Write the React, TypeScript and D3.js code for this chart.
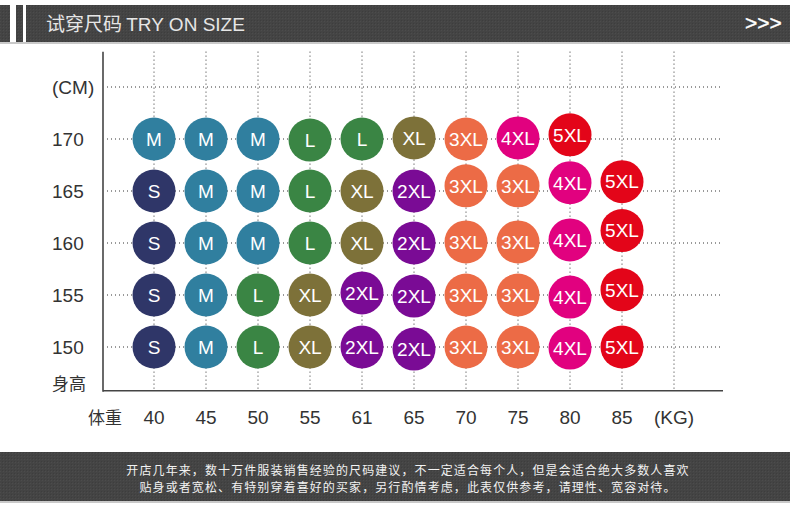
import React from "react";
import * as d3 from "d3";

const weightTicks = ["40", "45", "50", "55", "61", "65", "70", "75", "80", "85"];
const weightUnit = "(KG)";
const heightTicks = [170, 165, 160, 155, 150];
const heightUnit = "(CM)";

const sizeNames = ["S", "M", "L", "XL", "2XL", "3XL", "4XL", "5XL"];
const sizeColors = ["#2f3668", "#307f9f", "#3a8544", "#7d7139", "#7a0b95", "#ec6b46", "#e1017f", "#e30519"];

// rows: height -> sizes by weight column
const row170 = ["M", "M", "M", "L", "L", "XL", "3XL", "4XL", "5XL"];
const row165 = ["S", "M", "M", "L", "XL", "2XL", "3XL", "3XL", "4XL", "5XL"];
const row160 = ["S", "M", "M", "L", "XL", "2XL", "3XL", "3XL", "4XL", "5XL"];
const row155 = ["S", "M", "L", "XL", "2XL", "2XL", "3XL", "3XL", "4XL", "5XL"];
const row150 = ["S", "M", "L", "XL", "2XL", "2XL", "3XL", "3XL", "4XL", "5XL"];
// height read for each bubble (as placed in the picture)
const h170 = [170, 170, 170, 169.9, 170, 170.1, 170, 170.1, 170.4];
const h165 = [165, 165, 165, 165, 165, 165, 165.5, 165.5, 165.8, 165.9];
const h160 = [160, 160, 160, 160, 160, 160, 160.1, 160.1, 160.3, 161.2];
const h155 = [155, 155, 155, 155, 155.2, 154.9, 155, 155, 154.8, 155.5];
const h150 = [150, 150, 150, 150, 150, 149.8, 150, 150, 149.9, 150];

const footerLines = [
  "开店几年来，数十万件服装销售经验的尺码建议，不一定适合每个人，但是会适合绝大多数人喜欢",
  "贴身或者宽松、有特别穿着喜好的买家，另行酌情考虑，此表仅供参考，请理性、宽容对待。",
];

const W = 790;
const H = 509;
const FONT = "'Liberation Sans', Arial, Helvetica, sans-serif";
const CJK = "'Noto Sans CJK SC', 'Liberation Sans', sans-serif";

export default function App() {
  const x = d3.scalePoint<string>().domain([...weightTicks, weightUnit]).range([154, 674]);
  const y = d3.scaleLinear().domain([150, 175]).range([347, 87]);
  const color = d3.scaleOrdinal<string, string>().domain(sizeNames).range(sizeColors);

  const axisLeft = 103;
  const axisBottom = y(145.8);
  const axisTop = y(178.4);
  const gridRight = 722;

  const rows = [
    { sizes: row170, hs: h170 },
    { sizes: row165, hs: h165 },
    { sizes: row160, hs: h160 },
    { sizes: row155, hs: h155 },
    { sizes: row150, hs: h150 },
  ];
  const points = rows.flatMap((r) =>
    r.sizes.map((s, i) => ({ size: s, w: weightTicks[i], h: r.hs[i] }))
  );

  const gridH = [175, ...heightTicks];
  const gridV = [...weightTicks, weightUnit];

  return (
    <svg width={W} height={H} style={{ position: "absolute", left: 0, top: 0, background: "#fff" }}>
      <defs>
        <pattern id="tex" width="3" height="3" patternUnits="userSpaceOnUse">
          <rect width="3" height="3" fill="#444" />
          <rect width="1" height="1" fill="#4c4c4c" />
          <rect x="2" y="2" width="1" height="1" fill="#3d3d3d" />
        </pattern>
      </defs>
      {/* header */}
      <rect x={0} y={42} width={W} height={2} fill="#c9c9c9" />
      <rect x={0} y={5} width={10} height={37} fill="url(#tex)" />
      <rect x={16} y={5} width={7} height={37} fill="url(#tex)" />
      <rect x={26} y={5} width={W - 26} height={37} fill="url(#tex)" />
      <text x={46} y={31} fontSize={19} fill="#e6e6e6" fontFamily={CJK}>
        试穿尺码 <tspan fontFamily={FONT}>TRY ON SIZE</tspan>
      </text>
      <text x={745} y={30} fontSize={21} fill="#fff" fontFamily={FONT} stroke="#fff" strokeWidth={0.4}>{">>>"}</text>

      {/* grid */}
      {gridH.map((h) => (
        <line key={"h" + h} x1={107} x2={gridRight} y1={y(h)} y2={y(h)} stroke="#333" strokeWidth={1} strokeDasharray="1 3" />
      ))}
      {gridV.map((w) => (
        <line key={"v" + w} x1={x(w)} x2={x(w)} y1={axisTop} y2={axisBottom} stroke="#333" strokeWidth={1} strokeDasharray="1 3" />
      ))}

      {/* axes */}
      <line x1={axisLeft} x2={axisLeft} y1={axisTop} y2={axisBottom + 1} stroke="#444" strokeWidth={1.6} />
      <line x1={axisLeft} x2={723} y1={axisBottom} y2={axisBottom} stroke="#444" strokeWidth={1.6} />

      {/* y labels */}
      <text x={52} y={y(175)} dy="0.35em" fontSize={19} fill="#333" fontFamily={FONT}>{heightUnit}</text>
      {heightTicks.map((h) => (
        <text key={"yl" + h} x={52} y={y(h)} dy="0.35em" fontSize={19} fill="#333" fontFamily={FONT}>{h}</text>
      ))}
      <text x={52} y={384} dy="0.35em" fontSize={17} fill="#333" fontFamily={CJK}>身高</text>

      {/* x labels */}
      <text x={105} y={424} textAnchor="middle" fontSize={17} fill="#333" fontFamily={CJK}>体重</text>
      {gridV.map((w) => (
        <text key={"xl" + w} x={x(w)} y={424} textAnchor="middle" fontSize={19} fill="#333" fontFamily={FONT}>{w}</text>
      ))}

      {/* bubbles */}
      {points.map((p, i) => (
        <g key={"p" + i} transform={`translate(${x(p.w)},${y(p.h)})`}>
          <circle r={21.5} fill={color(p.size)} />
          <text dy="0.36em" textAnchor="middle" fontSize={19} fill="#fff" fontFamily={FONT}>{p.size}</text>
        </g>
      ))}

      {/* footer */}
      <rect x={0} y={452} width={W} height={49} fill="url(#tex)" />
      <rect x={0} y={501} width={W} height={2} fill="#c9c9c9" />
      {footerLines.map((t, i) => (
        <text key={"f" + i} x={408} y={470.5 + i * 17} dy="0.35em" textAnchor="middle" fontSize={12} letterSpacing={1.1} fill="#f2f2f2" fontFamily={CJK}>{t}</text>
      ))}
    </svg>
  );
}
